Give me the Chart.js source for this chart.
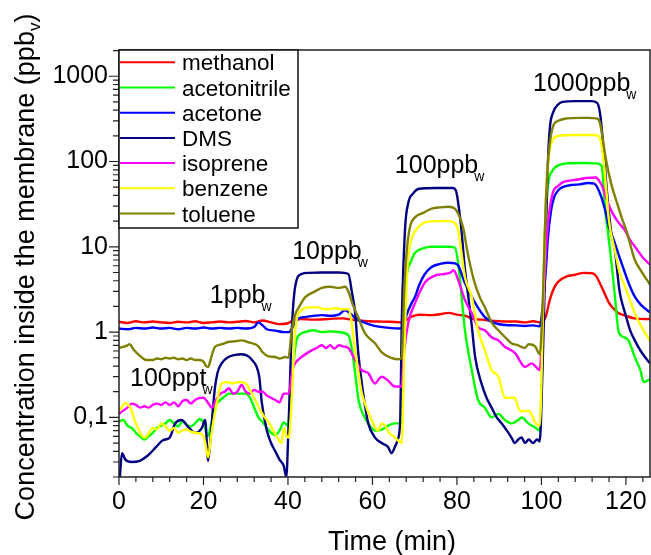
<!DOCTYPE html>
<html>
<head>
<meta charset="utf-8">
<script src="https://cdn.jsdelivr.net/npm/chart.js@4.4.1/dist/chart.umd.min.js"></script>
<style>
html, body { margin: 0; padding: 0; background: #fff; }
canvas { display: block; }
</style>
</head>
<body>
<canvas id="chart" width="651" height="555"></canvas>
<script>
// [time (min), concentration (ppbv)] for each compound
const methanol = [[0,1.32],[2,1.28],[4,1.34],[6,1.3],[8,1.33],[10,1.3],[12,1.28],[14,1.32],[16,1.3],[18,1.34],[20,1.28],[22,1.3],[24,1.33],[26,1.3],[28,1.32],[30,1.35],[32,1.3],[34,1.37],[36,1.3],[38,1.24],[40,1.27],[41,1.35],[43,1.42],[46,1.4],[50,1.43],[53,1.45],[55,1.4],[58,1.35],[61,1.33],[64,1.32],[67,1.3],[69,1.5],[71,1.6],[74,1.58],[76,1.62],[78,1.68],[80,1.6],[82,1.55],[84,1.42],[86,1.4],[88,1.36],[90,1.34],[92,1.33],[94,1.33],[96,1.3],[98,1.34],[100,1.3],[101,1.5],[102,2.4],[103,3.3],[104,3.9],[106,4.5],[108,4.7],[110,4.95],[112,4.9],[113,4.5],[114,3.6],[115,2.8],[116,2.2],[117,1.9],[118,1.7],[120,1.55],[122,1.45],[125.7,1.42]];

const acetonitrile = [[0,0.09],[1,0.093],[2,0.08],[3,0.075],[4,0.066],[5,0.06],[6,0.055],[7,0.06],[8,0.066],[9,0.075],[10,0.08],[11,0.085],[12,0.093],[13,0.085],[14,0.078],[15,0.09],[16,0.082],[17,0.078],[18,0.085],[19,0.095],[20,0.088],[21,0.06],[22,0.09],[23,0.14],[24,0.16],[25,0.175],[26,0.19],[28,0.19],[30,0.19],[31,0.17],[32,0.13],[33,0.1],[34,0.088],[35,0.075],[36,0.066],[37,0.062],[38,0.07],[39,0.087],[40,0.08],[40.5,0.15],[41.3,0.43],[42,0.8],[43,0.95],[44,1.0],[46,1.05],[48,1.0],[50,1.02],[52,1.0],[54.3,0.92],[55.2,0.6],[55.9,0.33],[56.7,0.16],[57.4,0.12],[59,0.085],[60.6,0.07],[62.2,0.072],[63.7,0.08],[65.3,0.085],[66.9,0.085],[67.5,1.0],[68,4],[69,6.5],[70,8.4],[72,9.6],[74,10],[76,10],[78,10],[79.5,9.8],[80.3,6.4],[81.1,2.6],[81.9,1.05],[83.5,0.36],[85,0.16],[86.6,0.13],[88.2,0.1],[89.8,0.11],[91.4,0.093],[92.9,0.085],[94.5,0.093],[95.3,0.1],[96.9,0.085],[98.5,0.076],[99.6,0.07],[100.2,0.5],[100.7,10],[101.5,50],[102.7,79],[104,90],[106,95],[110,96],[113,95],[114.3,88],[115,30],[115.8,14],[116.6,6.4],[117.4,2.6],[118.2,1.05],[119,0.9],[120.6,0.8],[122.1,0.51],[123.4,0.36],[124.2,0.26],[125.7,0.28]];

const acetone = [[0,1.1],[2,1.08],[4,1.12],[6,1.1],[8,1.13],[10,1.1],[12,1.12],[14,1.08],[16,1.12],[18,1.1],[20,1.13],[22,1.1],[24,1.12],[26,1.1],[28,1.12],[30,1.1],[32,1.15],[33,1.3],[34,1.2],[35,1.08],[37,1.04],[39,1.0],[40.2,1.0],[40.9,1.1],[41.7,1.3],[42.6,1.45],[44,1.5],[46,1.55],[48,1.58],[50,1.55],[52,1.6],[53.5,1.8],[54.5,1.7],[56,1.45],[58,1.3],[60,1.2],[62,1.15],[64,1.12],[66,1.1],[67,1.12],[67.7,1.4],[68.5,1.8],[69.3,2.2],[70.1,2.6],[71,3.5],[72.4,4.8],[74,5.8],[76,6.3],[78,6.5],[79.5,6.4],[80.3,6.0],[81.9,3.75],[84.3,2.2],[86.6,1.5],[89,1.27],[91.4,1.21],[94,1.2],[96,1.18],[98,1.2],[99.6,1.17],[100.3,2],[101,5],[101.5,12],[102.3,27],[103,38],[104,46],[105,50],[107,53],[109,54],[111,56],[112.5,55],[113.8,43],[115,28],[116,17],[117.4,11],[118.5,7.5],[119.8,4.9],[121,3.4],[122.1,2.6],[123.5,2.1],[125.7,1.7]];

const dms = [[0.2,0.02],[0.7,0.038],[1.5,0.032],[3,0.03],[4.9,0.031],[6.9,0.036],[8.8,0.045],[10.4,0.054],[12,0.058],[13.3,0.085],[14.8,0.093],[16.4,0.077],[18,0.066],[19.6,0.075],[20.4,0.093],[21.1,0.031],[21.7,0.06],[22.2,0.12],[22.7,0.22],[23.3,0.33],[24.3,0.43],[25.9,0.51],[27.5,0.54],[29,0.55],[30.6,0.52],[31.5,0.47],[32.5,0.4],[33.2,0.3],[33.8,0.15],[35,0.07],[36,0.05],[37,0.04],[38,0.032],[39,0.027],[39.6,0.02],[40.1,0.07],[40.9,1.05],[41.7,3.4],[43.2,4.8],[45,4.95],[48,5.0],[52,5.0],[54.3,4.8],[55.1,3],[55.9,1.67],[56.6,0.6],[57.4,0.27],[58.2,0.14],[59,0.085],[60.6,0.058],[62.2,0.05],[63.7,0.045],[64.5,0.038],[65.3,0.045],[66,0.055],[66.6,0.1],[66.9,1.05],[67.7,15.7],[68.5,33],[69.6,42],[71,48],[75,49],[79,49],[79.8,45],[80.4,30],[81.1,15],[81.8,6],[82.7,2.57],[83.5,1.2],[84.3,0.51],[85.8,0.25],[87,0.17],[88.2,0.13],[89.4,0.1],[90.6,0.085],[92,0.068],[92.9,0.058],[93.7,0.05],[94.5,0.055],[95.3,0.058],[96.1,0.05],[97,0.055],[98,0.05],[99,0.055],[99.6,0.052],[100.2,0.3],[100.6,1.5],[101,12],[101.5,90],[102,250],[102.7,370],[104,470],[105,500],[108,510],[112,510],[113.3,480],[114,330],[114.8,120],[115.5,45],[116.5,15],[117.4,9],[118.5,3],[119.8,1.67],[121,1.05],[122.1,0.8],[123.5,0.6],[125.7,0.43]];

const isoprene = [[0,0.11],[1,0.12],[2,0.13],[3,0.145],[4,0.14],[5,0.13],[6,0.135],[7,0.13],[8,0.14],[9,0.145],[10,0.14],[11,0.15],[12,0.14],[13,0.15],[14,0.135],[15,0.155],[16,0.16],[17,0.145],[18,0.16],[19,0.168],[20,0.17],[21,0.15],[22,0.13],[23,0.16],[24,0.19],[25,0.2],[26,0.22],[27,0.19],[28,0.2],[29,0.24],[30,0.2],[31,0.19],[32,0.21],[33,0.2],[34,0.2],[35,0.18],[36,0.17],[37,0.16],[38,0.15],[39,0.19],[40.2,0.19],[41,0.35],[41.7,0.43],[43.2,0.51],[45.6,0.61],[47,0.66],[48,0.7],[49,0.65],[50,0.7],[51,0.64],[52,0.7],[53,0.68],[54.3,0.65],[55.9,0.47],[57.4,0.36],[59,0.33],[60.6,0.25],[61.5,0.28],[62.2,0.3],[63.7,0.27],[65.3,0.23],[66.9,0.23],[67.5,0.6],[68.5,1.3],[70.1,2.2],[72.4,3.8],[74.8,4.6],[77,4.8],[78.5,5.0],[79.2,5.3],[80.3,4.07],[81.9,2.37],[83.5,1.67],[85,1.14],[86.6,1.05],[88.2,0.87],[89.8,0.8],[91.4,0.67],[92.9,0.61],[94,0.55],[95,0.45],[96.1,0.39],[97.7,0.43],[98.5,0.4],[99.6,0.36],[100.3,1.5],[101,8],[101.7,22],[102.7,43],[104,52],[105,57],[107,60],[109,62],[110.5,64],[112.9,65],[113.8,58],[114.5,50],[115.5,35],[116.8,25],[118,20],[119.8,15.5],[121,12],[122.5,9.5],[124,7.5],[125.7,6.2]];

const benzene = [[0,0.12],[0.6,0.13],[1.4,0.147],[2.3,0.14],[3,0.12],[3.8,0.09],[4.5,0.075],[5.5,0.06],[6.3,0.058],[7,0.065],[8,0.075],[9,0.072],[10,0.085],[11,0.078],[12,0.07],[13,0.075],[14,0.066],[15,0.07],[16,0.072],[17,0.068],[18,0.066],[19,0.065],[20,0.06],[20.6,0.045],[21.1,0.034],[21.8,0.06],[22.5,0.1],[23.3,0.16],[24.3,0.25],[25.5,0.26],[27,0.25],[28.5,0.26],[30,0.25],[30.6,0.227],[32,0.17],[33.5,0.12],[34.5,0.1],[35.6,0.085],[36.5,0.07],[37.5,0.058],[38.4,0.05],[39.1,0.075],[39.7,0.06],[40.2,0.058],[40.9,0.17],[41.7,1.05],[43.2,1.81],[45,1.95],[47,1.95],[49,1.85],[51,1.9],[53,1.85],[54.3,1.85],[55,1.38],[55.9,0.6],[56.6,0.36],[57.4,0.2],[58.2,0.146],[59.8,0.093],[61.3,0.07],[62.2,0.085],[63,0.08],[64,0.065],[65,0.06],[66,0.054],[66.9,0.05],[67.5,0.5],[68.2,5],[69,11],[70.3,15.7],[72,19],[75,20],[78,20],[79.5,19],[80.3,15.7],[81,9],[81.9,4.4],[83.5,2.57],[85,1.05],[86.6,0.61],[88.2,0.36],[89.8,0.3],[91.4,0.17],[92.9,0.17],[93.7,0.17],[94.5,0.13],[95.3,0.117],[96.9,0.12],[98,0.1],[98.5,0.087],[99.6,0.08],[100.4,2],[101,30],[101.7,110],[102.7,179],[104,200],[108,205],[112,205],[113.5,200],[114.5,130],[115.3,50],[116,20],[117.4,9],[118.5,5],[119.8,3.4],[122.1,1.67],[123.5,1.2],[125.7,0.78]];

const toluene = [[0,0.65],[1,0.67],[2,0.7],[2.5,0.72],[3.5,0.62],[4.5,0.55],[5.5,0.5],[6.5,0.47],[8,0.47],[9,0.49],[10,0.48],[11,0.5],[12,0.49],[13,0.5],[14,0.48],[15,0.49],[16,0.47],[17,0.49],[18,0.47],[19,0.47],[20,0.45],[20.6,0.4],[21.1,0.39],[21.8,0.5],[22.7,0.67],[24.3,0.72],[26,0.77],[27.5,0.78],[29,0.8],[30.6,0.76],[31.5,0.74],[33,0.68],[34,0.58],[35.4,0.52],[37,0.51],[38,0.49],[39.3,0.51],[40.1,0.5],[40.9,1.05],[41.7,1.6],[42.6,1.96],[44.1,2.57],[46.4,3.0],[48,3.3],[50,3.4],[52,3.3],[53.5,3.4],[54.3,3.0],[55.2,2.2],[56.6,1.5],[58.2,0.97],[60.6,0.74],[62.2,0.58],[64.4,0.5],[66.3,0.48],[66.9,0.5],[67.5,3],[68.2,10],[69,18],[70,22],[72,25],[74,28],[76,29],[78,29.5],[79.5,28],[80.7,22],[81.6,15.7],[82.4,9.2],[84,4.07],[85.5,2.5],[86.6,1.96],[88.2,1.3],[89.8,1.05],[91.4,0.87],[92.9,0.74],[94.5,0.7],[96,0.65],[97,0.72],[98.5,0.68],[99.6,0.55],[100.4,3],[101,30],[101.7,120],[102.7,254],[104,300],[106,320],[109,325],[111,325],[113,320],[113.8,290],[115.3,104],[116.5,55],[117.7,35],[119,22],[120.2,15],[121.3,9.5],[122.1,7],[123.5,5.3],[125.7,3.6]];

const seriesNames = ['methanol', 'acetonitrile', 'acetone', 'DMS', 'isoprene', 'benzene', 'toluene'];
const seriesColors = ['#ff0000', '#00ff00', '#0000ff', '#000080', '#ff00ff', '#ffff00', '#808000'];
const seriesData = [methanol, acetonitrile, acetone, dms, isoprene, benzene, toluene];

// axis ticks and labels
const yDecades = [0.1, 1, 10, 100, 1000];
const yDecadeLabels = ['0,1', '1', '10', '100', '1000'];
const xMajorTicks = [0, 20, 40, 60, 80, 100, 120];
const xMinorStep = 4;

// concentration step annotations: text, time, concentration at text baseline
const stepText = ['100ppt', '1ppb', '10ppb', '100ppb', '1000ppb'];
const stepTime = [2.6, 21.5, 41, 65.3, 98];
const stepConc = [0.232, 2.19, 7.2, 74, 666];
const stepSubscript = 'w';

const xTitle = 'Time (min)';
const yTitleMain = 'Concentration inside the membrane (ppb';
const yTitleSub = 'v';
const yTitleEnd = ')';

const FONT = "'Liberation Sans', Arial, Helvetica, sans-serif";
const AXIS_COLOR = '#222';

const isDecade = v => Math.abs(Math.log10(v) - Math.round(Math.log10(v))) < 1e-6;

// frame, tick marks, step labels and axis titles
const decorations = {
  id: 'decorations',
  afterDatasetsDraw(chart) {
    const { ctx, chartArea: a, scales: { x, y } } = chart;
    ctx.save();
    ctx.strokeStyle = AXIS_COLOR;
    ctx.lineWidth = 1.5;
    ctx.strokeRect(a.left, a.top, a.right - a.left, a.bottom - a.top);

    ctx.lineWidth = 1.2;
    ctx.beginPath();
    y.ticks.forEach(tk => {
      const py = y.getPixelForValue(tk.value);
      const len = isDecade(tk.value) ? 10 : 6;
      ctx.moveTo(a.left - len, py);
      ctx.lineTo(a.left, py);
    });
    x.ticks.forEach(tk => {
      const px = x.getPixelForValue(tk.value);
      const len = xMajorTicks.includes(tk.value) ? 8 : 5;
      ctx.moveTo(px, a.bottom);
      ctx.lineTo(px, a.bottom + len);
    });
    ctx.stroke();

    // step annotations with subscript
    ctx.fillStyle = '#000';
    ctx.textBaseline = 'alphabetic';
    ctx.textAlign = 'left';
    stepText.forEach((txt, i) => {
      const px = x.getPixelForValue(stepTime[i]);
      const py = y.getPixelForValue(stepConc[i]);
      ctx.font = '25px ' + FONT;
      ctx.fillText(txt, px, py);
      const w = ctx.measureText(txt).width;
      ctx.font = '14px ' + FONT;
      ctx.fillText(stepSubscript, px + w - 4, py + 8);
    });

    // x title
    ctx.font = '27px ' + FONT;
    ctx.textAlign = 'center';
    ctx.fillText(xTitle, 392, 550);

    // y title (rotated, with subscript)
    ctx.save();
    ctx.translate(34, 267);
    ctx.rotate(-Math.PI / 2);
    ctx.textAlign = 'left';
    ctx.font = '27px ' + FONT;
    const wMain = ctx.measureText(yTitleMain).width;
    const wEnd = ctx.measureText(yTitleEnd).width;
    ctx.font = '17px ' + FONT;
    const wSub = ctx.measureText(yTitleSub).width;
    const x0 = -(wMain + wSub + wEnd) / 2;
    ctx.font = '27px ' + FONT;
    ctx.fillText(yTitleMain, x0, 0);
    ctx.font = '17px ' + FONT;
    ctx.fillText(yTitleSub, x0 + wMain, 6);
    ctx.font = '27px ' + FONT;
    ctx.fillText(yTitleEnd, x0 + wMain + wSub, 0);
    ctx.restore();
    ctx.restore();
  }
};

// boxed legend in the upper left of the plot
const boxLegend = {
  id: 'boxLegend',
  afterDraw(chart) {
    const { ctx, chartArea: a } = chart;
    const left = a.left, top = a.top, w = 179, h = 178;
    ctx.save();
    ctx.fillStyle = '#fff';
    ctx.fillRect(left, top, w, h);
    ctx.strokeStyle = '#111';
    ctx.lineWidth = 1.5;
    ctx.strokeRect(left, top, w, h);
    ctx.font = '22.5px ' + FONT;
    ctx.textBaseline = 'alphabetic';
    ctx.textAlign = 'left';
    chart.data.datasets.forEach((ds, i) => {
      const ly = top + 12.3 + i * 25.2;
      ctx.strokeStyle = ds.borderColor;
      ctx.lineWidth = 2;
      ctx.beginPath();
      ctx.moveTo(left + 1, ly);
      ctx.lineTo(left + 56, ly);
      ctx.stroke();
      ctx.fillStyle = '#000';
      ctx.fillText(ds.label, left + 63, ly + 8);
    });
    ctx.restore();
  }
};

new Chart(document.getElementById('chart'), {
  type: 'line',
  data: {
    datasets: seriesNames.map((name, i) => ({
      label: name,
      data: seriesData[i].map(([t, v]) => ({ x: t, y: v })),
      borderColor: seriesColors[i],
      backgroundColor: seriesColors[i],
      borderWidth: 2.4,
      pointRadius: 0,
      fill: false,
      cubicInterpolationMode: 'monotone',
      order: seriesNames.length - i
    }))
  },
  options: {
    responsive: false,
    animation: false,
    devicePixelRatio: 1,
    events: [],
    layout: { padding: { top: 50, right: 1, left: 0, bottom: 0 } },
    plugins: { legend: { display: false }, tooltip: { enabled: false } },
    scales: {
      x: {
        type: 'linear',
        min: 0,
        max: 125.7,
        border: { display: false },
        grid: { drawOnChartArea: false, drawTicks: true, tickLength: 10, color: 'rgba(0,0,0,0)' },
        afterBuildTicks(scale) {
          const t = [];
          for (let v = 0; v <= 125; v += xMinorStep) t.push({ value: v });
          scale.ticks = t;
        },
        afterFit(scale) { scale.height = 78; },
        ticks: {
          autoSkip: false,
          maxRotation: 0,
          padding: 0,
          color: '#000',
          font: { family: FONT, size: 25 },
          callback: v => (xMajorTicks.includes(v) ? String(v) : '')
        }
      },
      y: {
        type: 'logarithmic',
        min: 0.02,
        max: 2030,
        border: { display: false },
        grid: { drawOnChartArea: false, drawTicks: true, tickLength: 10, color: 'rgba(0,0,0,0)' },
        afterBuildTicks(scale) {
          const t = [];
          for (let e = -2; e <= 3; e++) {
            for (let m = 1; m <= 9; m++) {
              const v = +(m * Math.pow(10, e)).toPrecision(3);
              if (v >= 0.02 && v <= 2030) t.push({ value: v });
            }
          }
          scale.ticks = t;
        },
        afterFit(scale) { scale.width = 119; },
        ticks: {
          autoSkip: false,
          padding: 1,
          color: '#000',
          font: { family: FONT, size: 25 },
          callback: v => {
            const k = yDecades.findIndex(d => Math.abs(d - v) < d * 1e-6);
            return k >= 0 ? yDecadeLabels[k] : '';
          }
        }
      }
    }
  },
  plugins: [decorations, boxLegend]
});
</script>
</body>
</html>
